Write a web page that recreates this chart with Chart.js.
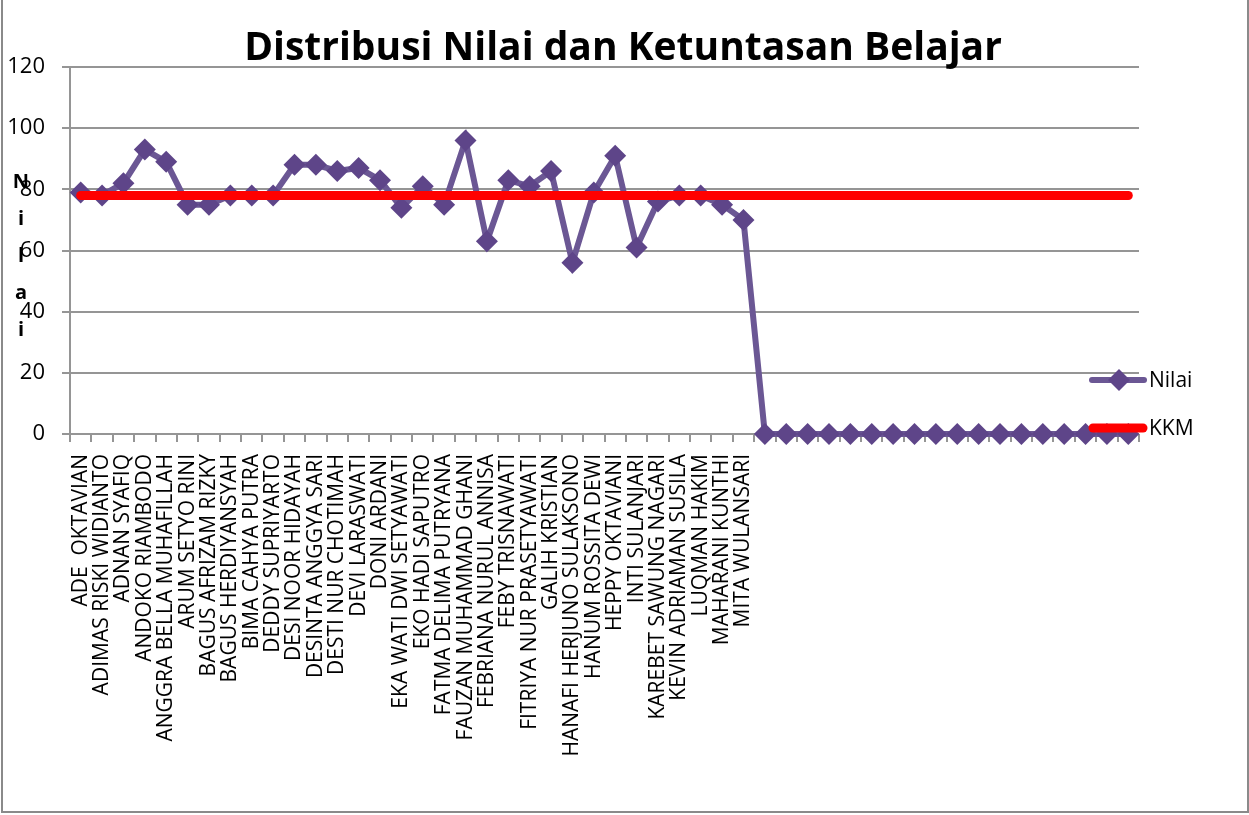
<!DOCTYPE html>
<html>
<head>
<meta charset="utf-8">
<script src="https://cdn.jsdelivr.net/npm/chart.js@4.4.1/dist/chart.umd.min.js"></script>
<style>
  html, body { margin: 0; padding: 0; background: #fff; }
  #wrap { position: absolute; left: 0; top: 0; width: 1249px; height: 815px; }
  #frame { position: absolute; left: 1px; top: -4px; width: 1244px; height: 813px; border: 2px solid #8a8a8a; pointer-events: none; }
</style>
</head>
<body>
<div id="wrap"><canvas id="chart"></canvas></div>
<div id="frame"></div>
<script>
const names = [
  'ADE  OKTAVIAN', 'ADIMAS RISKI WIDIANTO', 'ADNAN SYAFIQ', 'ANDOKO RIAMBODO',
  'ANGGRA BELLA MUHAFILLAH', 'ARUM SETYO RINI', 'BAGUS AFRIZAM RIZKY', 'BAGUS HERDIYANSYAH',
  'BIMA CAHYA PUTRA', 'DEDDY SUPRIYARTO', 'DESI NOOR HIDAYAH', 'DESINTA ANGGYA SARI',
  'DESTI NUR CHOTIMAH', 'DEVI LARASWATI', 'DONI ARDANI', 'EKA WATI DWI SETYAWATI',
  'EKO HADI SAPUTRO', 'FATMA DELIMA PUTRYANA', 'FAUZAN MUHAMMAD GHANI', 'FEBRIANA NURUL ANNISA',
  'FEBY TRISNAWATI', 'FITRIYA NUR PRASETYAWATI', 'GALIH KRISTIAN', 'HANAFI HERJUNO SULAKSONO',
  'HANUM ROSSITA DEWI', 'HEPPY OKTAVIANI', 'INTI SULANJARI', 'KAREBET SAWUNG NAGARI',
  'KEVIN ADRIAMAN SUSILA', 'LUQMAN HAKIM', 'MAHARANI KUNTHI', 'MITA WULANSARI',
  '', '', '', '', '', '', '', '', '', '', '', '', '', '', '', '', '', ''
];

const nilai = [
  79, 78, 82, 93, 89, 75, 75, 78, 78, 78, 88, 88, 86, 87, 83, 74,
  81, 75, 96, 63, 83, 81, 86, 56, 79, 91, 61, 76, 78, 78, 75, 70,
  0, 0, 0, 0, 0, 0, 0, 0, 0, 0, 0, 0, 0, 0, 0, 0, 0, 0
];

const kkm = [
  78, 78, 78, 78, 78, 78, 78, 78, 78, 78, 78, 78, 78, 78, 78, 78, 78,
  78, 78, 78, 78, 78, 78, 78, 78, 78, 78, 78, 78, 78, 78, 78, 78, 78,
  78, 78, 78, 78, 78, 78, 78, 78, 78, 78, 78, 78, 78, 78, 78, 78
];

const yTicks = [0, 20, 40, 60, 80, 100, 120];

const purpleLine = '#6b5794';
const purpleMark = '#5e4589';
const grey = '#959595';

// title, legend on the right and stacked y title, drawn by hand like Excel does
const extras = {
  id: 'extras',
  afterDraw(chart) {
    const ctx = chart.ctx;
    ctx.save();
    ctx.fillStyle = '#000';
    ctx.textBaseline = 'middle';
    ctx.textAlign = 'center';
    ctx.font = 'bold 39px "Open Sans"';
    ctx.fillText('Distribusi Nilai dan Ketuntasan Belajar', 623, 49);

    ctx.lineCap = 'round';
    // Nilai
    ctx.strokeStyle = purpleLine;
    ctx.lineWidth = 6;
    ctx.beginPath(); ctx.moveTo(1092, 380); ctx.lineTo(1144, 380); ctx.stroke();
    ctx.fillStyle = purpleMark;
    ctx.beginPath();
    ctx.moveTo(1119, 369); ctx.lineTo(1130, 380); ctx.lineTo(1119, 391); ctx.lineTo(1108, 380);
    ctx.closePath(); ctx.fill();
    // KKM
    ctx.strokeStyle = '#ff0000';
    ctx.lineWidth = 9;
    ctx.beginPath(); ctx.moveTo(1093, 428); ctx.lineTo(1143, 428); ctx.stroke();

    ctx.fillStyle = '#000';
    ctx.font = '21px "Open Sans"';
    ctx.textAlign = 'left';
    ctx.fillText('Nilai', 1149, 381);
    ctx.fillText('KKM', 1149, 429);

    ctx.font = 'bold 20px "Open Sans"';
    ctx.textAlign = 'center';
    const letters = ['N', 'i', 'l', 'a', 'i'];
    letters.forEach((c, i) => ctx.fillText(c, 21, 182 + i * 37));
    ctx.restore();
  }
};

new Chart(document.getElementById('chart'), {
  type: 'line',
  data: {
    labels: names,
    datasets: [
      {
        label: 'KKM',
        data: kkm,
        borderColor: '#ff0000',
        backgroundColor: '#ff0000',
        borderWidth: 9,
        borderCapStyle: 'round',
        pointRadius: 0,
        pointHoverRadius: 0,
        tension: 0,
        order: 0
      },
      {
        label: 'Nilai',
        data: nilai,
        borderColor: purpleLine,
        backgroundColor: purpleMark,
        borderWidth: 6,
        pointStyle: 'rectRot',
        pointRadius: 11,
        pointBorderWidth: 0,
        pointBackgroundColor: purpleMark,
        tension: 0,
        clip: false,
        order: 1
      }
    ]
  },
  options: {
    responsive: true,
    maintainAspectRatio: false,
    animation: false,
    layout: { padding: { left: 0, right: 110, top: 67, bottom: 0 } },
    plugins: {
      legend: { display: false },
      tooltip: { enabled: false },
      title: { display: false }
    },
    scales: {
      x: {
        offset: true,
        grid: { display: true, offset: true, drawOnChartArea: false, color: grey, lineWidth: 2, tickLength: 8 },
        border: { display: false },
        ticks: {
          autoSkip: false,
          maxRotation: 90,
          minRotation: 90,
          padding: 12,
          color: '#000',
          font: { family: '"Open Sans"', size: 21 }
        },
        afterFit(scale) { scale.height = 381; }
      },
      y: {
        min: 0,
        max: 120,
        afterBuildTicks(scale) { scale.ticks = yTicks.map(v => ({ value: v })); },
        grid: { color: grey, lineWidth: 2, tickLength: 8 },
        border: { color: grey, width: 2 },
        ticks: {
          padding: 17,
          color: '#000',
          font: { family: '"Open Sans"', size: 22 }
        },
        afterFit(scale) { scale.width = 70; }
      }
    }
  },
  plugins: [extras]
});
</script>
</body>
</html>
